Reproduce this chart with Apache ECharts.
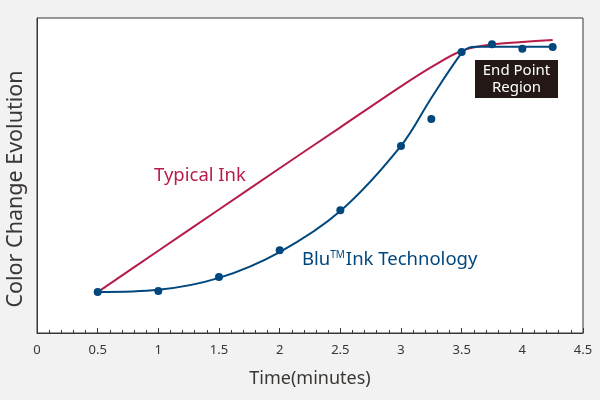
<!DOCTYPE html>
<html>
<head>
<meta charset="utf-8">
<script src="https://cdn.jsdelivr.net/npm/echarts@6/dist/echarts.min.js"></script>
<style>
html,body{margin:0;padding:0;background:#f2f2f2;}
#c{width:600px;height:400px;}
</style>
</head>
<body>
<div id="c"></div>
<script>
// Data
const xTicks = [0, 0.5, 1, 1.5, 2, 2.5, 3, 3.5, 4, 4.5];
const typicalX = [0.5, 1.0, 1.5, 2.0, 2.5, 3.0, 3.25, 3.5, 3.75, 4.0, 4.25];
const typicalY = [13.0, 26.1, 39.2, 52.3, 65.3, 78.3, 84.4, 89.6, 91.6, 92.4, 93.0];
const bluFitX = [0.5, 1.0, 1.5, 2.0, 2.5, 3.0, 3.25, 3.5, 3.56, 3.62, 3.9, 4.25];
const bluFitY = [13.0, 13.7, 17.5, 25.7, 38.7, 59.4, 74.6, 88.9, 90.6, 90.9, 90.9, 90.9];
const bluPtX = [0.5, 1.0, 1.5, 2.0, 2.5, 3.0, 3.25, 3.5, 3.75, 4.0, 4.25];
const bluPtY = [13.0, 13.3, 17.8, 26.3, 39.0, 59.4, 67.9, 89.2, 91.7, 90.2, 90.8];

const zip = (a, b) => a.map((v, i) => [v, b[i]]);
const RED = '#b71c48';
const BLUE = '#00477d';
const FONT = '"Noto Sans", "Open Sans", sans-serif';

const chart = echarts.init(document.getElementById('c'), null, {renderer: 'canvas'});
chart.setOption({
  backgroundColor: '#f2f2f2',
  animation: false,
  grid: {
    left: 37, right: 17, top: 18, bottom: 67,
    show: true, backgroundColor: '#ffffff', borderColor: '#3a3634', borderWidth: 1
  },
  xAxis: {
    type: 'value', min: 0, max: 4.5, interval: 0.5,
    axisLine: {show: true, lineStyle: {color: '#3a3634', width: 1}},
    axisTick: {show: true, inside: true, length: 5, lineStyle: {color: '#3a3634'}},
    minorTick: {show: true, splitNumber: 5, length: 3, lineStyle: {color: '#3a3634'}},
    splitLine: {show: false},
    axisLabel: {color: '#3a3634', fontSize: 13, margin: 11, fontFamily: FONT,
      formatter: v => String(xTicks.find(t => Math.abs(t - v) < 1e-9) ?? v)},
    name: 'Time(minutes)', nameLocation: 'middle', nameGap: 37,
    nameTextStyle: {color: '#3a3634', fontSize: 18, fontFamily: FONT}
  },
  yAxis: {
    type: 'value', min: 0, max: 100,
    axisLine: {show: true, lineStyle: {color: '#3a3634'}},
    axisTick: {show: false}, axisLabel: {show: false}, splitLine: {show: false}
  },
  series: [
    {
      type: 'line', data: zip(typicalX, typicalY), smooth: 0.3, showSymbol: false,
      lineStyle: {color: RED, width: 2}, z: 2
    },
    {
      type: 'line', data: zip(bluFitX, bluFitY), smooth: 0.35, showSymbol: false,
      lineStyle: {color: BLUE, width: 2}, z: 3
    },
    {
      type: 'scatter', data: zip(bluPtX, bluPtY), symbolSize: 8,
      itemStyle: {color: BLUE, opacity: 1}, z: 4
    }
  ],
  graphic: [
    {type: 'text', x: 154, y: 176, z: 10,
      style: {text: 'Typical Ink', fill: RED, font: '18.5px ' + FONT, verticalAlign: 'middle'}},
    {type: 'text', x: 302, y: 260, z: 10,
      style: {text: '{a|Blu}{s|TM}{a|Ink Technology}', fill: BLUE, verticalAlign: 'middle',
        rich: {
          a: {fill: BLUE, font: '18.5px ' + FONT, fontSize: 18.5, fontFamily: FONT, verticalAlign: 'bottom'},
          s: {fill: BLUE, font: '10px ' + FONT, fontSize: 10, fontFamily: FONT, verticalAlign: 'top', padding: [0, 1, 8, 0]}
        }}},
    {type: 'rect', shape: {x: 475, y: 60, width: 83, height: 38}, z: 10,
      style: {fill: '#231815'}},
    {type: 'text', x: 516.5, y: 79.5, z: 11,
      style: {text: 'End Point\nRegion', fill: '#ffffff', font: '15px ' + FONT,
        align: 'center', verticalAlign: 'middle', lineHeight: 17}},
    {type: 'text', x: 16, y: 189, rotation: Math.PI / 2, z: 10,
      style: {text: 'Color Change Evolution', fill: '#3a3634', font: '21.5px ' + FONT,
        align: 'center', verticalAlign: 'middle'}}
  ]
});
</script>
</body>
</html>
